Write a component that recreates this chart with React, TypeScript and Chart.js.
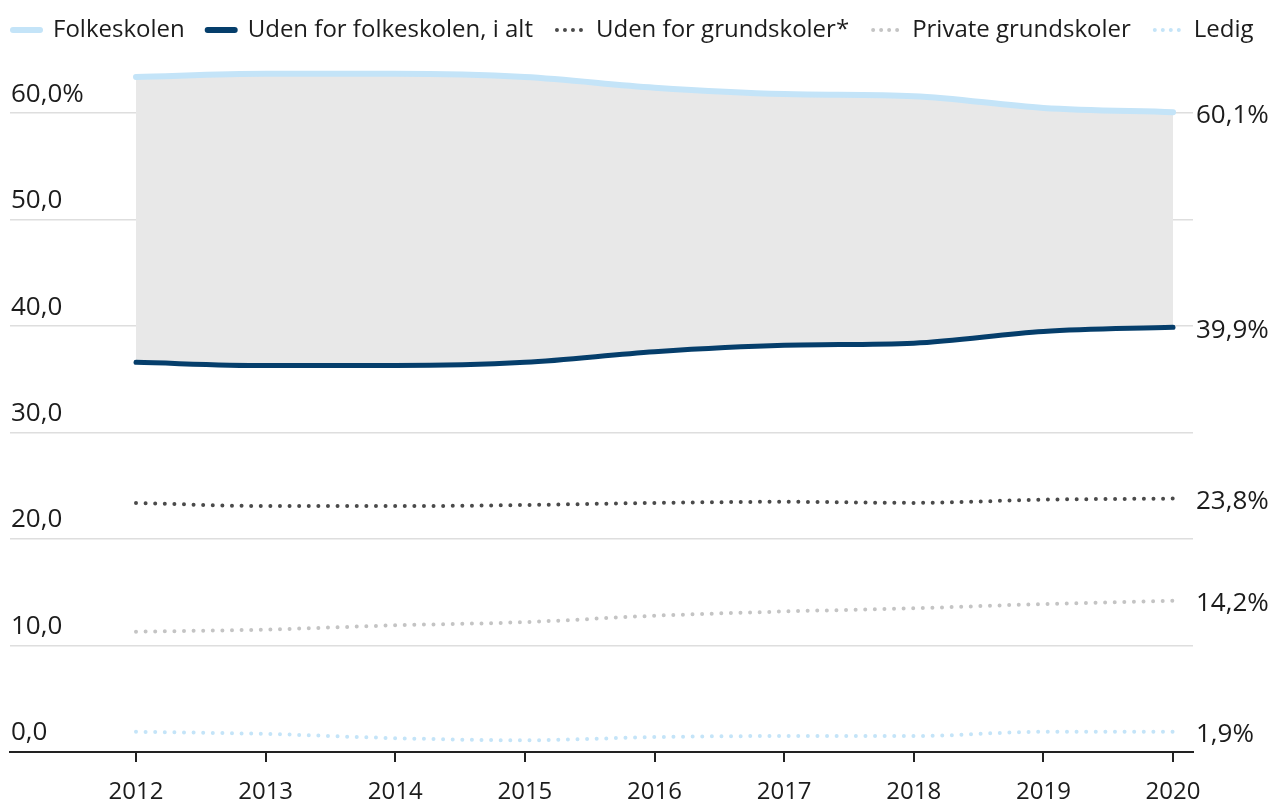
import React, { useEffect, useRef } from "react";
import { Chart, registerables } from "chart.js";

Chart.register(...registerables);

const years = [2012, 2013, 2014, 2015, 2016, 2017, 2018, 2019, 2020];
const folkeskolen = [63.4, 63.7, 63.7, 63.4, 62.4, 61.8, 61.6, 60.5, 60.1];
const udenForFolkeskolen = [36.6, 36.3, 36.3, 36.6, 37.6, 38.2, 38.4, 39.5, 39.9];
const udenForGrundskoler = [23.4, 23.1, 23.1, 23.2, 23.4, 23.5, 23.4, 23.7, 23.8];
const privateGrundskoler = [11.3, 11.5, 11.9, 12.2, 12.8, 13.2, 13.5, 13.9, 14.2];
const ledig = [1.9, 1.7, 1.3, 1.1, 1.4, 1.5, 1.5, 1.9, 1.9];
const yTicks = [0, 10, 20, 30, 40, 50, 60];
const seriesNames = [
  "Folkeskolen",
  "Uden for folkeskolen, i alt",
  "Uden for grundskoler*",
  "Private grundskoler",
  "Ledig",
];

const FONT = "'Open Sans', Lato, sans-serif";
const TEXT = "#1c1c1c";
const LIGHT_BLUE = "#c4e4f8";
const NAVY = "#053e6b";
const DARK_GRAY = "#4a4a4a";
const LIGHT_GRAY = "#c4c4c4";

const fmt = (v: number) => v.toFixed(1).replace(".", ",");

const toPts = (arr: number[]) => years.map((x, i) => ({ x, y: arr[i] }));

export default function App() {
  const ref = useRef<HTMLCanvasElement>(null);

  useEffect(() => {
    if (!ref.current) return;

    const overlay = {
      id: "overlay",
      afterDraw(chart: any) {
        const ctx = chart.ctx;
        const ys = chart.scales.y;
        ctx.save();
        // y tick labels above grid lines
        ctx.fillStyle = TEXT;
        ctx.font = `26px ${FONT}`;
        ctx.textAlign = "left";
        ctx.textBaseline = "middle";
        yTicks.forEach((v) => {
          const label = v === 60 ? fmt(v) + "%" : fmt(v);
          ctx.fillText(label, 11, ys.getPixelForValue(v) - 19);
        });
        // right end labels
        chart.data.datasets.forEach((ds: any) => {
          const last = ds.data[ds.data.length - 1];
          ctx.fillText(fmt(last.y) + "%", chart.chartArea.right + 3, ys.getPixelForValue(last.y) + 3);
        });
        // legend
        ctx.font = `24px ${FONT}`;
        let x = 10;
        const ly = 30;
        chart.data.datasets.forEach((ds: any) => {
          ctx.save();
          ctx.strokeStyle = ds.borderColor;
          ctx.lineCap = "round";
          if (ds.borderDash && ds.borderDash.length) {
            ctx.lineWidth = 4;
            ctx.setLineDash([0, 8]);
            ctx.beginPath();
            ctx.moveTo(x + 4, ly);
            ctx.lineTo(x + 30, ly);
            ctx.stroke();
          } else {
            ctx.lineWidth = 6;
            ctx.beginPath();
            ctx.moveTo(x + 3, ly);
            ctx.lineTo(x + 30, ly);
            ctx.stroke();
          }
          ctx.restore();
          ctx.fillStyle = TEXT;
          ctx.textBaseline = "middle";
          ctx.fillText(ds.label, x + 43, ly);
          x += 43 + ctx.measureText(ds.label).width + 20;
        });
        ctx.restore();
      },
    };

    const dotted = {
      borderDash: [0, 9.6],
      borderCapStyle: "round" as const,
      borderWidth: 4,
    };

    const chart = new Chart(ref.current, {
      type: "line",
      data: {
        datasets: [
          {
            label: seriesNames[0],
            data: toPts(folkeskolen),
            borderColor: LIGHT_BLUE,
            backgroundColor: "#e8e8e8",
            borderWidth: 6,
            borderCapStyle: "round",
            fill: "+1",
          },
          {
            label: seriesNames[1],
            data: toPts(udenForFolkeskolen),
            borderColor: NAVY,
            borderWidth: 5,
            borderCapStyle: "round",
            fill: false,
          },
          {
            label: seriesNames[2],
            data: toPts(udenForGrundskoler),
            borderColor: DARK_GRAY,
            fill: false,
            ...dotted,
          },
          {
            label: seriesNames[3],
            data: toPts(privateGrundskoler),
            borderColor: LIGHT_GRAY,
            fill: false,
            ...dotted,
          },
          {
            label: seriesNames[4],
            data: toPts(ledig),
            borderColor: LIGHT_BLUE,
            fill: false,
            ...dotted,
          },
        ],
      },
      options: {
        responsive: false,
        animation: false,
        events: [],
        layout: { padding: { left: 10, right: 77, top: 60, bottom: -19 } },
        elements: {
          point: { radius: 0 },
          line: { cubicInterpolationMode: "monotone" },
        },
        plugins: {
          legend: { display: false },
          tooltip: { enabled: false },
          filler: { propagate: false, drawTime: "beforeDatasetsDraw" },
        },
        scales: {
          x: {
            type: "linear",
            min: 2011.028,
            max: 2020.154,
            afterBuildTicks: (axis: any) => {
              axis.ticks = years.map((v) => ({ value: v }));
            },
            ticks: {
              color: TEXT,
              font: { family: FONT, size: 24, lineHeight: 1 },
              padding: 18,
              maxRotation: 0,
              callback: (v: any) => String(v),
            },
            grid: {
              display: true,
              drawOnChartArea: false,
              drawTicks: true,
              tickLength: 10,
              color: "#222",
              lineWidth: 2,
            },
            border: { display: true, color: "#222", width: 2 },
          },
          y: {
            min: 0,
            max: 65,
            afterBuildTicks: (axis: any) => {
              axis.ticks = yTicks.map((v) => ({ value: v }));
            },
            ticks: { display: false },
            grid: {
              color: "#dedede",
              lineWidth: 1.5,
              drawTicks: false,
            },
            border: { display: false },
          },
        },
      },
      plugins: [overlay],
    });

    return () => chart.destroy();
  }, []);

  return (
    <div style={{ position: "fixed", left: 0, top: 0, width: 1270, height: 803, background: "#fff" }}>
      <canvas ref={ref} width={1270} height={803} />
    </div>
  );
}
